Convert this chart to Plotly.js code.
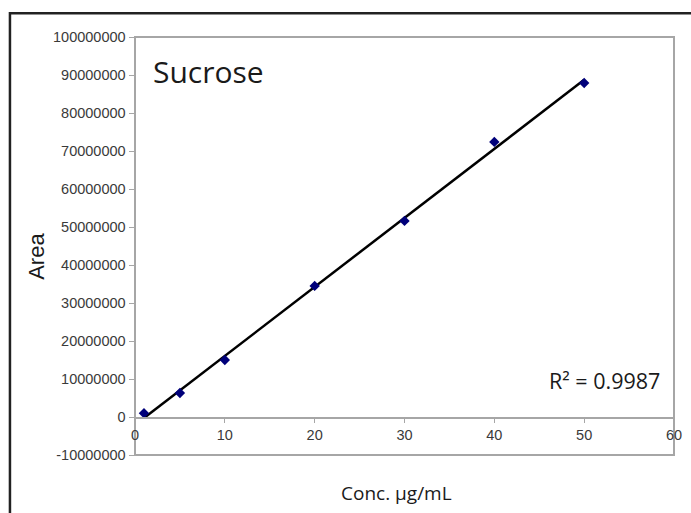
<!DOCTYPE html>
<html>
<head>
<meta charset="utf-8">
<script src="https://cdn.plot.ly/plotly-3.0.1.min.js"></script>
<style>
  html, body { margin: 0; padding: 0; background: #fff; }
  #chart { width: 691px; height: 513px; }
</style>
</head>
<body>
<div id="chart"></div>
<script>
// Data
const concentrations = [1, 5, 10, 20, 30, 40, 50];
const areas = [1000000, 6300000, 15000000, 34500000, 51600000, 72400000, 87900000];
const yTickValues = [-10000000, 0, 10000000, 20000000, 30000000, 40000000, 50000000, 60000000, 70000000, 80000000, 90000000, 100000000];
const xTickValues = [0, 10, 20, 30, 40, 50, 60];
const chartLabel = "Sucrose";
const rSquaredLabel = "R² = 0.9987";

// Linear least-squares trendline (as Excel does)
const n = concentrations.length;
const mx = concentrations.reduce((a, b) => a + b, 0) / n;
const my = areas.reduce((a, b) => a + b, 0) / n;
let sxy = 0, sxx = 0;
for (let i = 0; i < n; i++) {
  sxy += (concentrations[i] - mx) * (areas[i] - my);
  sxx += (concentrations[i] - mx) * (concentrations[i] - mx);
}
const slope = sxy / sxx;
const intercept = my - slope * mx;
const fitX = [concentrations[0], concentrations[n - 1]];
const fitY = fitX.map(x => slope * x + intercept);

const traces = [
  {
    x: fitX, y: fitY, type: 'scatter', mode: 'lines',
    line: { color: '#000000', width: 2.5 }, hoverinfo: 'skip', showlegend: false
  },
  {
    x: concentrations, y: areas, type: 'scatter', mode: 'markers',
    marker: { symbol: 'diamond', size: 8, color: '#00007a' }, showlegend: false
  }
];

const tickFont = { family: 'Liberation Sans, Arial, sans-serif', size: 14.5, color: '#3a3a3a' };

const layout = {
  width: 691, height: 513,
  margin: { l: 135, r: 17, t: 37, b: 58 },
  paper_bgcolor: '#ffffff', plot_bgcolor: '#ffffff',
  showlegend: false,
  xaxis: {
    range: [0, 60], tickvals: xTickValues, ticktext: xTickValues.map(String),
    showgrid: false, zeroline: false, showline: true, linecolor: '#a6a6a6', linewidth: 1.5,
    ticks: 'outside', ticklen: 4, tickcolor: '#a6a6a6',
    anchor: 'free', position: 10 / 110,
    tickfont: tickFont
  },
  yaxis: {
    range: [-10000000, 100000000], tickvals: yTickValues, ticktext: yTickValues.map(String),
    showgrid: false, zeroline: false, showline: true, linecolor: '#a6a6a6', linewidth: 1.5,
    ticks: 'outside', ticklen: 5, tickcolor: '#a6a6a6',
    tickfont: tickFont
  },
  shapes: [
    { type: 'rect', xref: 'paper', yref: 'paper', x0: 0, x1: 1, y0: 0, y1: 1,
      line: { color: '#a6a6a6', width: 2 }, fillcolor: 'rgba(0,0,0,0)', layer: 'below' },
    { type: 'rect', xref: 'paper', yref: 'paper', x0: -0.232, x1: 1.2, y0: -0.3, y1: 1.057,
      line: { color: '#222222', width: 2.5 }, fillcolor: 'rgba(0,0,0,0)' }
  ],
  annotations: [
    { text: chartLabel, xref: 'paper', yref: 'paper', x: 0.03, y: 0.918,
      xanchor: 'left', yanchor: 'middle', showarrow: false,
      font: { family: 'Open Sans, Noto Sans, sans-serif', size: 30, color: '#1a1a1a' } },
    { text: rSquaredLabel, xref: 'paper', yref: 'paper', x: 0.978, y: 0.178,
      xanchor: 'right', yanchor: 'middle', showarrow: false,
      font: { family: 'Open Sans, Noto Sans, sans-serif', size: 21.5, color: '#1a1a1a' } },
    { text: 'Conc. µg/mL', xref: 'paper', yref: 'paper', x: 0.485, y: -0.09,
      xanchor: 'center', yanchor: 'middle', showarrow: false,
      font: { family: 'Open Sans, Noto Sans, sans-serif', size: 19, color: '#1a1a1a' } },
    { text: 'Area', xref: 'paper', yref: 'paper', x: -0.183, y: 0.475, textangle: -90,
      xanchor: 'center', yanchor: 'middle', showarrow: false,
      font: { family: 'Liberation Sans, Arial, sans-serif', size: 22, color: '#1a1a1a' } }
  ]
};

Plotly.newPlot('chart', traces, layout, { displayModeBar: false, staticPlot: true });
</script>
</body>
</html>
